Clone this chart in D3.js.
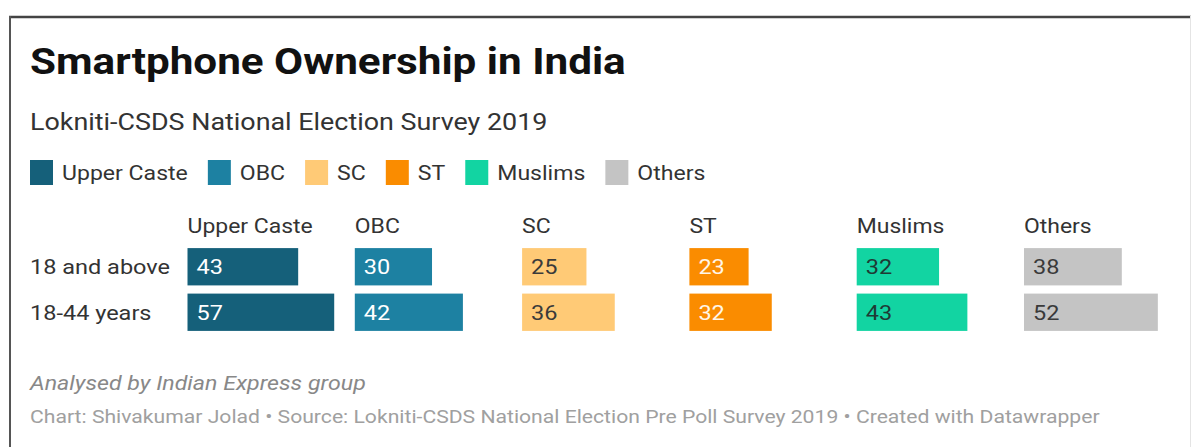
<!DOCTYPE html>
<html>
<head>
<meta charset="utf-8">
<script src="https://cdn.jsdelivr.net/npm/d3@7"></script>
<style>
  html, body { margin: 0; padding: 0; background: #fff; }
  svg { display: block; font-family: Roboto, "Noto Sans", sans-serif; }
</style>
</head>
<body>
<svg id="chart" width="1191" height="447"></svg>
<script>
// Survey groups (columns) and age bands (rows)
const groups = ["Upper Caste", "OBC", "SC", "ST", "Muslims", "Others"];
const ageBands = ["18 and above", "18-44 years"];

// Smartphone ownership, % of respondents, per group
const adults18Plus = [43, 30, 25, 23, 32, 38];
const adults18to44 = [57, 42, 36, 32, 43, 52];

const groupColors = ["#15607a", "#1d81a2", "#ffca76", "#fa8c00", "#12d4a2", "#c4c4c4"];
const labelColors = ["#ffffff", "#ffffff", "#3a3a3a", "#fff6e8", "#1f3a34", "#3a3a3a"];

const title = "Smartphone Ownership in India";
const subtitle = "Lokniti-CSDS National Election Survey 2019";
const note = "Analysed by Indian Express group";
const credit = "Chart: Shivakumar Jolad \u2022 Source: Lokniti-CSDS National Election Pre Poll Survey 2019 \u2022 Created with Datawrapper";

const seriesByRow = [adults18Plus, adults18to44];

// The typeface is set slightly wide
const STRETCH = 1.12;

const svg = d3.select("#chart");

function label(parent, x, y, str, size, fill, extra) {
  const t = parent.append("text")
    .attr("transform", `translate(${x},${y}) scale(${STRETCH},1)`)
    .attr("font-size", size).attr("fill", fill).text(str);
  if (extra) extra(t);
  return t;
}

// Outer frame
svg.append("line").attr("x1", 9).attr("x2", 1191).attr("y1", 17).attr("y2", 17)
  .attr("stroke", "#444").attr("stroke-width", 2.5);
svg.append("line").attr("x1", 10).attr("x2", 10).attr("y1", 16).attr("y2", 447)
  .attr("stroke", "#555").attr("stroke-width", 2);
svg.append("line").attr("x1", 1190.5).attr("x2", 1190.5).attr("y1", 16).attr("y2", 447)
  .attr("stroke", "#e4e4e4").attr("stroke-width", 1);

// Header
label(svg, 30, 74, title, 37.7, "#111", t => t.attr("font-weight", 700));
label(svg, 30, 130, subtitle, 24, "#333");

// Legend
const legend = svg.append("g").attr("transform", "translate(30,160)");
let lx = 0;
groups.forEach((g, i) => {
  legend.append("rect").attr("x", lx).attr("width", 23).attr("height", 25).attr("fill", groupColors[i]);
  const t = label(legend, lx + 32, 20, g, 20.6, "#333");
  lx += 32 + t.node().getComputedTextLength() * STRETCH + 20;
});

// Scales
const colScale = d3.scaleBand().domain(groups).range([187.5, 187.5 + 6 * 167.3]);
const rowScale = d3.scaleBand().domain(ageBands).range([244, 335])
  .paddingInner(0.18).paddingOuter(0.09);
const valueScale = d3.scaleLinear().domain([0, 65]).range([0, colScale.bandwidth()]);

// Column headers
const headers = svg.append("g");
groups.forEach(g => label(headers, colScale(g), 233, g, 20.5, "#333"));

// Row labels
const rowLabels = svg.append("g");
ageBands.forEach(r =>
  label(rowLabels, 30, rowScale(r) + rowScale.bandwidth() / 2, r, 21, "#333",
    t => t.attr("dy", "0.36em")));

// Bars with value labels
const cells = [];
ageBands.forEach((row, r) => {
  groups.forEach((g, c) => cells.push({ row, group: g, c, value: seriesByRow[r][c] }));
});

const cell = svg.append("g").selectAll("g").data(cells).join("g")
  .attr("transform", d => `translate(${colScale(d.group)},${rowScale(d.row)})`);

cell.append("rect")
  .attr("width", d => valueScale(d.value))
  .attr("height", rowScale.bandwidth())
  .attr("fill", d => groupColors[d.c]);

cell.each(function (d) {
  label(d3.select(this), 9, rowScale.bandwidth() / 2, d.value, 21, labelColors[d.c],
    t => t.attr("dy", "0.36em"));
});

// Footer
label(svg, 30, 390, note, 20.7, "#888", t => t.attr("font-style", "italic"));
label(svg, 30, 423, credit, 18.9, "#a0a0a0");
</script>
</body>
</html>
